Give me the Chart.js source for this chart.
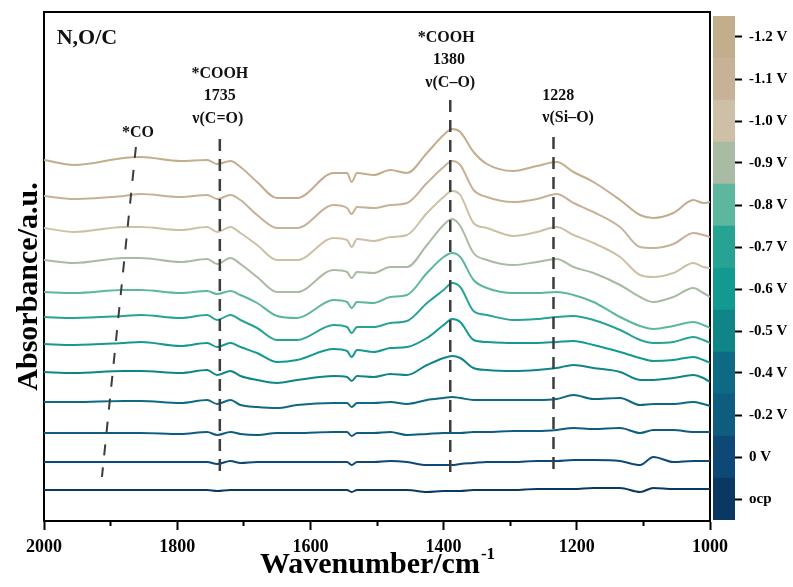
<!DOCTYPE html>
<html>
<head>
<meta charset="utf-8">
<script src="https://cdn.jsdelivr.net/npm/chart.js@4.4.1/dist/chart.umd.min.js"></script>
<style>
html, body { margin: 0; padding: 0; background: #fff; }
#wrap { position: relative; width: 793px; height: 587px; }
#main { position: absolute; left: 0; top: 0; }
#bar { position: absolute; left: 711px; top: 0; }
</style>
</head>
<body>
<div id="wrap">
  <canvas id="main" width="793" height="587"></canvas>
  <canvas id="bar" width="82" height="587"></canvas>
</div>
<script>
// wavenumber grid (cm-1)
var wavenumbers = [2000, 1955, 1880, 1855, 1795, 1755, 1740, 1720, 1705, 1680, 1650, 1620, 1565, 1545, 1538, 1530, 1505, 1480, 1455, 1425, 1400, 1387, 1375, 1355, 1335, 1295, 1260, 1230, 1205, 1175, 1135, 1105, 1085, 1055, 1025, 1010, 1000];

var potentials = ['ocp', '0 V', '-0.2 V', '-0.4 V', '-0.5 V', '-0.6 V', '-0.7 V', '-0.8 V', '-0.9 V', '-1.0 V', '-1.1 V', '-1.2 V'];
var colors = ['#0b3862', '#0d4876', '#0e5c80', '#0e6984', '#108587', '#139a90', '#27a394', '#5db79e', '#a9bba3', '#cdc0a6', '#c7b297', '#c2ae8c'];

// vertical stacking offset of each spectrum (a.u. x 1e-3)
var offsets = [0, 28, 57, 88, 118, 146, 173, 198, 230, 262, 294, 330];

// spectra relative to their own baseline (a.u. x 1e-3)
var specOcp = [0,0,0,0,0,0,-1,0,0,0,0,0,0,0,-2,0,0,0,0,-2,-1,-1,-1,0,0,0,1,1,1,2,2,-2,2,1,1,1,1];
var spec0 = [0,0,0,0,0,0,-2,1,-1,0,0,0,0,0,-3,0,0,1,0,-3,-3,-3,-2,-1,0,0,1,1,2,2,1,-3,5,0,1,1,1];
var specM02 = [0,0,0,0,-1,1,-2,1,-1,-2,0,0,1,1,-3,0,0,1,-2,-1,0,0,0,1,1,2,2,3,5,4,5,0,3,3,1,1,1];
var specM04 = [0,0,1,1,-1,2,-2,2,-3,-5,-6,-3,-1,-1,-5,-1,-1,0,-2,2,4,5,4,2,2,2,2,3,7,3,4,-3,-2,-2,0,-2,-4];
var specM05 = [0,-1,1,1,-1,2,-3,1,-4,-8,-11,-8,-4,-5,-9,-4,-5,-2,-3,7,14,16,14,4,2,1,2,4,7,4,0,-8,-8,-6,-3,-6,-10];
var specM06 = [0,-1,1,2,-2,1,-3,1,-3,-9,-18,-16,-5,-7,-13,-6,-8,-4,-3,6,19,25,22,4,2,1,1,2,3,-1,-8,-14,-17,-16,-13,-16,-19];
var specM07 = [0,-1,1,2,-1,2,-3,2,-3,-11,-23,-23,-8,-10,-16,-10,-10,-6,-4,14,27,34,30,6,2,-3,-2,0,1,-3,-13,-23,-26,-25,-20,-23,-26];
var specM08 = [0,-1,2,2,-1,1,-2,1,-3,-11,-24,-26,-8,-10,-16,-10,-11,-5,-3,19,35,39,35,12,4,-1,-1,0,-3,-10,-25,-34,-37,-34,-30,-33,-36];
var specM09 = [0,-3,2,2,-2,1,-4,2,-4,-17,-32,-32,-10,-12,-18,-12,-13,-7,-7,15,35,41,34,7,0,-5,-2,1,-7,-13,-25,-37,-42,-37,-28,-33,-37];
var specM10 = [0,-4,1,1,-2,1,-4,1,-5,-17,-32,-32,-10,-12,-19,-11,-13,-9,-7,15,31,37,33,5,0,-8,-4,1,-7,-15,-29,-47,-49,-45,-35,-39,-40];
var specM11 = [0,-3,0,2,-1,1,-3,1,-4,-19,-32,-32,-9,-12,-18,-11,-12,-9,-7,13,29,35,31,6,-1,-6,-3,2,-7,-16,-31,-51,-52,-48,-37,-39,-41];
var specM12 = [0,-5,2,3,-1,0,-4,-1,-7,-22,-38,-38,-13,-13,-22,-13,-15,-10,-13,7,25,31,28,8,-4,-11,-6,-2,-12,-22,-40,-55,-58,-53,-40,-43,-42];
var spectra = [specOcp, spec0, specM02, specM04, specM05, specM06, specM07, specM08, specM09, specM10, specM11, specM12];

// band marker lines: [wavenumber, level] pairs
var coMarker = [[1862, 343], [1913, 13]];
var cooh1735Marker = [[1736, 351], [1736, 15]];
var cooh1380Marker = [[1390, 390], [1390, 12]];
var sio1228Marker = [[1235, 353], [1235, 17]];

// text notes
var panelLabel = 'N,O/C';
var panelWave = 1981, panelLevel = 452;
var noteText = ['*CO', '*COOH', '1735', '\u03bd(C=O)', '*COOH', '1380', '\u03bd(C\u2013O)', '1228', '\u03bd(Si\u2013O)'];
var noteWave = [1859, 1736, 1736, 1739, 1396, 1392, 1390, 1228, 1213];
var noteLevel = [357, 416, 394, 371, 452, 430, 407, 394, 372];

var serif = '"Liberation Serif", "Times New Roman", serif';

var datasets = [];
[coMarker, cooh1735Marker, cooh1380Marker, sio1228Marker].forEach(function (m, k) {
  datasets.push({
    data: m.map(function (p) { return { x: p[0], y: p[1] }; }),
    borderColor: '#3c3c3c',
    borderWidth: k === 0 ? 2 : 2.5,
    borderDash: k === 0 ? [11, 12] : [12, 8],
    pointRadius: 0,
    tension: 0
  });
});
spectra.forEach(function (s, i) {
  datasets.push({
    label: potentials[i],
    data: s.map(function (v, j) { return { x: wavenumbers[j], y: v + offsets[i] }; }),
    borderColor: colors[i],
    borderWidth: 2,
    pointRadius: 0,
    cubicInterpolationMode: 'monotone'
  });
});

var textPlugin = {
  id: 'spectraText',
  afterDraw: function (chart) {
    var ctx = chart.ctx, xs = chart.scales.x, ys = chart.scales.y, area = chart.chartArea;
    ctx.save();
    ctx.fillStyle = '#111';
    ctx.textBaseline = 'middle';
    ctx.textAlign = 'left';
    ctx.font = 'bold 22px ' + serif;
    ctx.fillText(panelLabel, xs.getPixelForValue(panelWave), ys.getPixelForValue(panelLevel));
    ctx.textAlign = 'center';
    ctx.font = 'bold 16px ' + serif;
    for (var i = 0; i < noteText.length; i++) {
      ctx.fillText(noteText[i], xs.getPixelForValue(noteWave[i]), ys.getPixelForValue(noteLevel[i]));
    }

    // axis titles
    ctx.fillStyle = '#000';
    ctx.textBaseline = 'alphabetic';
    ctx.textAlign = 'left';
    var t1 = 'Wavenumber/cm', t2 = '-1';
    ctx.font = 'bold 30px ' + serif;
    var w1 = ctx.measureText(t1).width;
    ctx.font = 'bold 17px ' + serif;
    var w2 = ctx.measureText(t2).width;
    var x0 = (area.left + area.right) / 2 - (w1 + w2) / 2;
    ctx.font = 'bold 30px ' + serif;
    ctx.fillText(t1, x0, area.bottom + 52);
    ctx.font = 'bold 17px ' + serif;
    ctx.fillText(t2, x0 + w1 + 1, area.bottom + 38);

    ctx.translate(area.left - 7, (area.top + area.bottom) / 2 + 20);
    ctx.rotate(-Math.PI / 2);
    ctx.textAlign = 'center';
    ctx.font = 'bold 30px ' + serif;
    ctx.fillText('Absorbance/a.u.', 0, 0);
    ctx.restore();
  }
};

var boxAxis = function (pos) {
  return {
    type: 'linear',
    position: pos,
    min: 0, max: 1,
    afterFit: function (s) { if (pos === 'top') { s.height = 0; } else { s.width = 0; } },
    ticks: { display: false },
    grid: { display: false },
    border: { color: '#000', width: 2 }
  };
};

var mainChart = new Chart(document.getElementById('main').getContext('2d'), {
  type: 'line',
  data: { datasets: datasets },
  options: {
    responsive: false,
    animation: false,
    layout: { padding: { top: 12, right: 83, left: 0, bottom: 0 } },
    plugins: { legend: { display: false }, tooltip: { enabled: false } },
    elements: { point: { radius: 0 } },
    scales: {
      x: {
        type: 'linear', position: 'bottom',
        min: 1000, max: 2000, reverse: true,
        afterFit: function (s) { s.height = 66; },
        ticks: {
          stepSize: 100, autoSkip: false, maxRotation: 0, color: '#000', padding: 7,
          font: { family: serif, size: 18, weight: 'bold' },
          callback: function (v) { return v % 200 === 0 ? v : ''; }
        },
        grid: {
          drawOnChartArea: false, tickLength: 9, tickWidth: 2, tickColor: '#000',
          tickBorderDash: function (c) { return (c.tick && c.tick.value % 200 !== 0) ? [4, 40] : []; }
        },
        border: { color: '#000', width: 2 }
      },
      y: {
        type: 'linear', min: -31, max: 478,
        afterFit: function (s) { s.width = 44; },
        ticks: { display: false },
        grid: { display: false },
        border: { color: '#000', width: 2 }
      },
      xTop: boxAxis('top'),
      yRight: boxAxis('right')
    }
  },
  plugins: [textPlugin]
});

// colour bar
var barChart = new Chart(document.getElementById('bar').getContext('2d'), {
  type: 'bar',
  data: {
    labels: [''],
    datasets: potentials.map(function (p, i) {
      return { label: p, data: [1], backgroundColor: colors[i], borderWidth: 0, barPercentage: 1, categoryPercentage: 1 };
    })
  },
  options: {
    responsive: false,
    animation: false,
    layout: { padding: { left: 2, top: 13, bottom: 67, right: 0 } },
    plugins: { legend: { display: false }, tooltip: { enabled: false } },
    scales: {
      x: { stacked: true, display: false },
      y: {
        stacked: true, position: 'right', min: 0, max: 12,
        afterFit: function (s) { s.width = 58; },
        afterBuildTicks: function (s) { s.ticks = potentials.map(function (p, i) { return { value: i + 0.5 }; }); },
        ticks: {
          color: '#000', padding: 7,
          font: { family: serif, size: 15, weight: 'bold' },
          callback: function (v) { return potentials[Math.floor(v)]; }
        },
        grid: { drawOnChartArea: false, tickLength: 7, tickWidth: 2, tickColor: '#000' },
        border: { display: false }
      }
    }
  }
});
</script>
</body>
</html>
